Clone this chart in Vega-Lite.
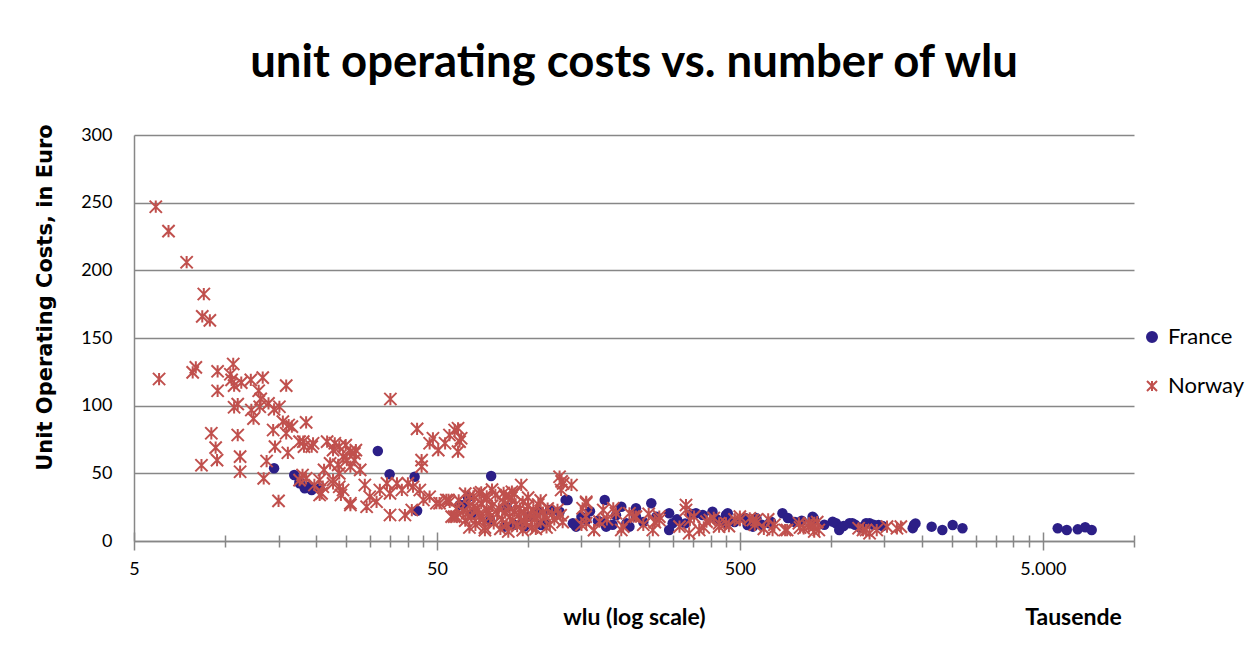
{
  "$schema": "https://vega.github.io/schema/vega-lite/v6.json",
  "width": 1000,
  "height": 406,
  "autosize": {"type": "none"},
  "padding": {"left": 134, "top": 135, "right": 124, "bottom": 113},
  "background": "white",
  "title": {"text": "unit operating costs vs. number of wlu", "font": "Lato", "fontSize": 45.5, "fontWeight": "bold", "color": "black", "anchor": "middle", "offset": 37},
  "config": {"view": {"stroke": null}, "font": "Lato"},
  "data": {"values": [
    {"country":"France","wlu":14.5,"cost":53.7},{"country":"France","wlu":16.9,"cost":48.8},{"country":"France","wlu":17.6,"cost":43.8},{"country":"France","wlu":18.8,"cost":40.1},{"country":"France","wlu":19.3,"cost":37.7},{"country":"France","wlu":20.5,"cost":38.9},{"country":"France","wlu":17.6,"cost":42.6},{"country":"France","wlu":18.3,"cost":39},{"country":"France","wlu":31.9,"cost":66.5},{"country":"France","wlu":34.9,"cost":49.3},{"country":"France","wlu":42.2,"cost":47.5},{"country":"France","wlu":43,"cost":22.4},{"country":"France","wlu":63.3,"cost":32.3},{"country":"France","wlu":61.3,"cost":26.6},{"country":"France","wlu":75.5,"cost":48},{"country":"France","wlu":59.4,"cost":26.6},{"country":"France","wlu":97,"cost":10.6},{"country":"France","wlu":113,"cost":13.1},{"country":"France","wlu":118,"cost":22.9},{"country":"France","wlu":133,"cost":30.3},{"country":"France","wlu":144,"cost":10.6},{"country":"France","wlu":127,"cost":21.6},{"country":"France","wlu":96,"cost":13.1},{"country":"France","wlu":110.5,"cost":11.8},{"country":"France","wlu":83.6,"cost":10.6},{"country":"France","wlu":135,"cost":30.3},{"country":"France","wlu":179,"cost":30.3},{"country":"France","wlu":203,"cost":25.3},{"country":"France","wlu":140.5,"cost":13.1},{"country":"France","wlu":155.5,"cost":15.5},{"country":"France","wlu":181,"cost":10.6},{"country":"France","wlu":211,"cost":13.1},{"country":"France","wlu":227,"cost":18},{"country":"France","wlu":227,"cost":24.2},{"country":"France","wlu":255,"cost":27.9},{"country":"France","wlu":292,"cost":20.5},{"country":"France","wlu":358,"cost":20.5},{"country":"France","wlu":406,"cost":21.6},{"country":"France","wlu":450,"cost":19.2},{"country":"France","wlu":179,"cost":13.1},{"country":"France","wlu":216,"cost":10.6},{"country":"France","wlu":456,"cost":20.5},{"country":"France","wlu":691,"cost":20.5},{"country":"France","wlu":633,"cost":14.3},{"country":"France","wlu":869,"cost":15.5},{"country":"France","wlu":530,"cost":11.8},{"country":"France","wlu":292,"cost":8.1},{"country":"France","wlu":300,"cost":13.1},{"country":"France","wlu":377,"cost":19.2},{"country":"France","wlu":567,"cost":16.8},{"country":"France","wlu":877,"cost":16.8},{"country":"France","wlu":1038,"cost":13.1},{"country":"France","wlu":1176,"cost":13.1},{"country":"France","wlu":1340,"cost":13.1},{"country":"France","wlu":626,"cost":13.1},{"country":"France","wlu":450,"cost":13.1},{"country":"France","wlu":552,"cost":10.6},{"country":"France","wlu":1064,"cost":8.1},{"country":"France","wlu":869,"cost":18},{"country":"France","wlu":1012,"cost":14.3},{"country":"France","wlu":1150,"cost":13.1},{"country":"France","wlu":1305,"cost":13.1},{"country":"France","wlu":1435,"cost":11.8},{"country":"France","wlu":1879,"cost":11.8},{"country":"France","wlu":2148,"cost":10.6},{"country":"France","wlu":2330,"cost":8.1},{"country":"France","wlu":2520,"cost":11.8},{"country":"France","wlu":2715,"cost":9.4},{"country":"France","wlu":5600,"cost":9.4},{"country":"France","wlu":6000,"cost":8.1},{"country":"France","wlu":6520,"cost":8.6},{"country":"France","wlu":6900,"cost":10.1},{"country":"France","wlu":7250,"cost":8.1},{"country":"France","wlu":65,"cost":20},{"country":"France","wlu":75,"cost":15},{"country":"France","wlu":85,"cost":25},{"country":"France","wlu":90,"cost":12},{"country":"France","wlu":100,"cost":18},{"country":"France","wlu":108,"cost":22},{"country":"France","wlu":1860,"cost":9.5},{"country":"France","wlu":1900,"cost":13},{"country":"France","wlu":720,"cost":17},{"country":"France","wlu":760,"cost":14},{"country":"France","wlu":800,"cost":15},{"country":"France","wlu":950,"cost":12},{"country":"France","wlu":1100,"cost":11},{"country":"France","wlu":1200,"cost":12},{"country":"France","wlu":1380,"cost":12},{"country":"France","wlu":1480,"cost":11},{"country":"France","wlu":1250,"cost":10},{"country":"France","wlu":240,"cost":14},{"country":"France","wlu":265,"cost":18},{"country":"France","wlu":310,"cost":16},{"country":"France","wlu":330,"cost":13},{"country":"France","wlu":345,"cost":20},{"country":"France","wlu":420,"cost":16},{"country":"France","wlu":480,"cost":14},{"country":"France","wlu":520,"cost":17},{"country":"France","wlu":590,"cost":12},{"country":"France","wlu":150,"cost":18},{"country":"France","wlu":160,"cost":22},{"country":"France","wlu":170,"cost":15},{"country":"France","wlu":190,"cost":12},{"country":"France","wlu":195,"cost":19},
    {"country":"Norway","wlu":5.9,"cost":247},{"country":"Norway","wlu":6.5,"cost":229},{"country":"Norway","wlu":7.46,"cost":206},{"country":"Norway","wlu":8.5,"cost":182.5},{"country":"Norway","wlu":8.4,"cost":166},{"country":"Norway","wlu":8.9,"cost":163},{"country":"Norway","wlu":6.05,"cost":119.7},{"country":"Norway","wlu":7.81,"cost":124.6},{"country":"Norway","wlu":8.0,"cost":128.3},{"country":"Norway","wlu":9.44,"cost":125.4},{"country":"Norway","wlu":10.63,"cost":130.8},{"country":"Norway","wlu":10.5,"cost":119},{"country":"Norway","wlu":10.7,"cost":114.8},{"country":"Norway","wlu":10.4,"cost":123.2},{"country":"Norway","wlu":9.44,"cost":111},{"country":"Norway","wlu":11.3,"cost":117},{"country":"Norway","wlu":12.15,"cost":119},{"country":"Norway","wlu":13.3,"cost":120.7},{"country":"Norway","wlu":15.9,"cost":114.8},{"country":"Norway","wlu":12.9,"cost":111},{"country":"Norway","wlu":13.1,"cost":105},{"country":"Norway","wlu":10.7,"cost":98.8},{"country":"Norway","wlu":11.0,"cost":101.2},{"country":"Norway","wlu":12.2,"cost":96.8},{"country":"Norway","wlu":12.4,"cost":90.4},{"country":"Norway","wlu":13.0,"cost":99.2},{"country":"Norway","wlu":13.9,"cost":101.7},{"country":"Norway","wlu":14.5,"cost":97.3},{"country":"Norway","wlu":15.1,"cost":99.2},{"country":"Norway","wlu":15.5,"cost":88.2},{"country":"Norway","wlu":16.2,"cost":85.7},{"country":"Norway","wlu":16.6,"cost":84.5},{"country":"Norway","wlu":15.9,"cost":79.6},{"country":"Norway","wlu":14.4,"cost":82},{"country":"Norway","wlu":18.5,"cost":87.6},{"country":"Norway","wlu":9.0,"cost":79.6},{"country":"Norway","wlu":9.3,"cost":69},{"country":"Norway","wlu":9.4,"cost":59.8},{"country":"Norway","wlu":11.0,"cost":78.3},{"country":"Norway","wlu":8.35,"cost":56},{"country":"Norway","wlu":11.2,"cost":62.3},{"country":"Norway","wlu":11.2,"cost":51.2},{"country":"Norway","wlu":14.6,"cost":69.7},{"country":"Norway","wlu":13.7,"cost":59.1},{"country":"Norway","wlu":16.1,"cost":65.2},{"country":"Norway","wlu":13.4,"cost":46.3},{"country":"Norway","wlu":15.0,"cost":29.6},{"country":"Norway","wlu":17.6,"cost":73.4},{"country":"Norway","wlu":18.2,"cost":69.7},{"country":"Norway","wlu":19.3,"cost":69.7},{"country":"Norway","wlu":17.6,"cost":45},{"country":"Norway","wlu":18.0,"cost":48.8},{"country":"Norway","wlu":20.5,"cost":34},{"country":"Norway","wlu":21.0,"cost":40.1},
    {"country":"Norway","wlu":35.1,"cost":104.9},{"country":"Norway","wlu":43,"cost":82.8},{"country":"Norway","wlu":47.3,"cost":72.2},{"country":"Norway","wlu":48.5,"cost":75.9},{"country":"Norway","wlu":50.5,"cost":67.2},{"country":"Norway","wlu":53.2,"cost":72.2},{"country":"Norway","wlu":55.0,"cost":78.3},{"country":"Norway","wlu":57.2,"cost":82},{"country":"Norway","wlu":58.7,"cost":83.3},{"country":"Norway","wlu":59.4,"cost":73.4},{"country":"Norway","wlu":58.7,"cost":66},{"country":"Norway","wlu":60.1,"cost":75.9},{"country":"Norway","wlu":44.5,"cost":59.8},{"country":"Norway","wlu":44.5,"cost":54.9},
    {"country":"Norway","wlu":23.0,"cost":72.2},{"country":"Norway","wlu":25,"cost":70.9},{"country":"Norway","wlu":25.9,"cost":66},{"country":"Norway","wlu":27.0,"cost":67.2},{"country":"Norway","wlu":26.7,"cost":59.8},{"country":"Norway","wlu":24.5,"cost":62.3},{"country":"Norway","wlu":23.6,"cost":56.2},{"country":"Norway","wlu":25.9,"cost":54.9},{"country":"Norway","wlu":27.9,"cost":52.5},{"country":"Norway","wlu":22.7,"cost":45.1},{"country":"Norway","wlu":23.8,"cost":40.1},{"country":"Norway","wlu":24.1,"cost":34},{"country":"Norway","wlu":25.9,"cost":26.6},
    {"country":"Norway","wlu":28.9,"cost":41.4},{"country":"Norway","wlu":30.0,"cost":32.7},{"country":"Norway","wlu":29.3,"cost":25.3},{"country":"Norway","wlu":31.6,"cost":29},{"country":"Norway","wlu":32.4,"cost":37.7},{"country":"Norway","wlu":34.2,"cost":42.6},{"country":"Norway","wlu":35.0,"cost":35.2},{"country":"Norway","wlu":36.9,"cost":42.6},{"country":"Norway","wlu":38.3,"cost":37.7},{"country":"Norway","wlu":40.1,"cost":42.6},{"country":"Norway","wlu":41.7,"cost":40.1},{"country":"Norway","wlu":43.9,"cost":37.7},{"country":"Norway","wlu":45.1,"cost":30.3},{"country":"Norway","wlu":47.3,"cost":32.7},{"country":"Norway","wlu":49.8,"cost":27.9},{"country":"Norway","wlu":54.6,"cost":30.3},{"country":"Norway","wlu":35.0,"cost":19.2},{"country":"Norway","wlu":39.2,"cost":19.2},{"country":"Norway","wlu":41.3,"cost":22.9},{"country":"Norway","wlu":55.9,"cost":18},
    {"country":"Norway","wlu":18.1,"cost":73.4},{"country":"Norway","wlu":19.5,"cost":72.2},{"country":"Norway","wlu":21.7,"cost":73.4},{"country":"Norway","wlu":22.7,"cost":67.2},{"country":"Norway","wlu":23.8,"cost":69.7},{"country":"Norway","wlu":26.7,"cost":64.8},{"country":"Norway","wlu":25.2,"cost":59.8},{"country":"Norway","wlu":22.2,"cost":57.4},{"country":"Norway","wlu":21.2,"cost":52.5},{"country":"Norway","wlu":23.8,"cost":50},{"country":"Norway","wlu":20.5,"cost":45.1},{"country":"Norway","wlu":22.7,"cost":42.6},{"country":"Norway","wlu":24.5,"cost":37.7},{"country":"Norway","wlu":25.9,"cost":27.9},{"country":"Norway","wlu":20.8,"cost":35.2},{"country":"Norway","wlu":18.5,"cost":46.3},{"country":"Norway","wlu":19.7,"cost":41.4},
    {"country":"Norway","wlu":51,"cost":27.9},{"country":"Norway","wlu":55.1,"cost":29},{"country":"Norway","wlu":58,"cost":18},{"country":"Norway","wlu":63,"cost":20.5},{"country":"Norway","wlu":66,"cost":25.3},{"country":"Norway","wlu":69,"cost":18},{"country":"Norway","wlu":73,"cost":22.9},{"country":"Norway","wlu":53.7,"cost":30.3},{"country":"Norway","wlu":64,"cost":33},{"country":"Norway","wlu":69,"cost":35},{"country":"Norway","wlu":73,"cost":33},{"country":"Norway","wlu":83,"cost":35.5},
    {"country":"Norway","wlu":94.9,"cost":41.4},{"country":"Norway","wlu":88.4,"cost":36.4},{"country":"Norway","wlu":127,"cost":47.5},{"country":"Norway","wlu":129,"cost":44},{"country":"Norway","wlu":130.5,"cost":42.6},{"country":"Norway","wlu":139,"cost":41.4},{"country":"Norway","wlu":128.5,"cost":37.7},{"country":"Norway","wlu":155.5,"cost":29},{"country":"Norway","wlu":151.3,"cost":24.2},{"country":"Norway","wlu":155.5,"cost":13.1},{"country":"Norway","wlu":177,"cost":22.9},{"country":"Norway","wlu":191,"cost":24.2},{"country":"Norway","wlu":206,"cost":10.6},{"country":"Norway","wlu":223,"cost":18},
    {"country":"Norway","wlu":59,"cost":30},{"country":"Norway","wlu":61,"cost":22},{"country":"Norway","wlu":62,"cost":15},{"country":"Norway","wlu":64,"cost":26},{"country":"Norway","wlu":65,"cost":18},{"country":"Norway","wlu":66,"cost":33},{"country":"Norway","wlu":67,"cost":12},{"country":"Norway","wlu":68,"cost":24},{"country":"Norway","wlu":69,"cost":20},{"country":"Norway","wlu":70,"cost":28},{"country":"Norway","wlu":71,"cost":16},{"country":"Norway","wlu":72,"cost":10},{"country":"Norway","wlu":73,"cost":31},{"country":"Norway","wlu":74,"cost":22},{"country":"Norway","wlu":75,"cost":18},{"country":"Norway","wlu":76,"cost":26},{"country":"Norway","wlu":77,"cost":13},{"country":"Norway","wlu":78,"cost":34},{"country":"Norway","wlu":79,"cost":20},{"country":"Norway","wlu":80,"cost":24},{"country":"Norway","wlu":81,"cost":9},{"country":"Norway","wlu":82,"cost":16},{"country":"Norway","wlu":83,"cost":29},{"country":"Norway","wlu":84,"cost":21},{"country":"Norway","wlu":85,"cost":12},{"country":"Norway","wlu":86,"cost":25},{"country":"Norway","wlu":87,"cost":18},{"country":"Norway","wlu":88,"cost":32},{"country":"Norway","wlu":89,"cost":15},{"country":"Norway","wlu":90,"cost":22},{"country":"Norway","wlu":91,"cost":27},{"country":"Norway","wlu":92,"cost":11},{"country":"Norway","wlu":93,"cost":19},{"country":"Norway","wlu":94,"cost":24},{"country":"Norway","wlu":95,"cost":15},{"country":"Norway","wlu":96,"cost":29},{"country":"Norway","wlu":97,"cost":21},{"country":"Norway","wlu":98,"cost":13},{"country":"Norway","wlu":99,"cost":17},{"country":"Norway","wlu":100,"cost":26},{"country":"Norway","wlu":102,"cost":20},{"country":"Norway","wlu":103,"cost":10},{"country":"Norway","wlu":104,"cost":23},{"country":"Norway","wlu":105,"cost":16},{"country":"Norway","wlu":107,"cost":19},{"country":"Norway","wlu":108,"cost":27},{"country":"Norway","wlu":110,"cost":14},{"country":"Norway","wlu":112,"cost":21},{"country":"Norway","wlu":114,"cost":18},{"country":"Norway","wlu":116,"cost":24},{"country":"Norway","wlu":118,"cost":12},{"country":"Norway","wlu":120,"cost":20},{"country":"Norway","wlu":122,"cost":16},{"country":"Norway","wlu":125,"cost":23},{"country":"Norway","wlu":128,"cost":19},{"country":"Norway","wlu":130,"cost":14},{"country":"Norway","wlu":62,"cost":35},{"country":"Norway","wlu":70,"cost":36},{"country":"Norway","wlu":76,"cost":38},{"country":"Norway","wlu":84,"cost":33},{"country":"Norway","wlu":90,"cost":35},{"country":"Norway","wlu":72,"cost":8},{"country":"Norway","wlu":86,"cost":7},{"country":"Norway","wlu":96,"cost":8},{"country":"Norway","wlu":106,"cost":9},{"country":"Norway","wlu":115,"cost":10},{"country":"Norway","wlu":64,"cost":10},{"country":"Norway","wlu":58,"cost":24},{"country":"Norway","wlu":57,"cost":18},{"country":"Norway","wlu":100,"cost":32},{"country":"Norway","wlu":110,"cost":30},
    {"country":"Norway","wlu":155.5,"cost":27.9},{"country":"Norway","wlu":332,"cost":26.6},{"country":"Norway","wlu":203,"cost":8.1},{"country":"Norway","wlu":258,"cost":8.1},{"country":"Norway","wlu":316,"cost":10.6},{"country":"Norway","wlu":353,"cost":18},{"country":"Norway","wlu":388,"cost":14.3},{"country":"Norway","wlu":427,"cost":13.1},{"country":"Norway","wlu":367,"cost":8.1},{"country":"Norway","wlu":271,"cost":18},{"country":"Norway","wlu":227,"cost":18},{"country":"Norway","wlu":195,"cost":20.5},{"country":"Norway","wlu":172,"cost":14.3},{"country":"Norway","wlu":155,"cost":18},{"country":"Norway","wlu":332,"cost":22.9},{"country":"Norway","wlu":342,"cost":15.5},{"country":"Norway","wlu":271,"cost":15.5},{"country":"Norway","wlu":216,"cost":20.5},{"country":"Norway","wlu":398,"cost":15.5},{"country":"Norway","wlu":450,"cost":13.1},{"country":"Norway","wlu":500,"cost":15.5},{"country":"Norway","wlu":552,"cost":15.5},{"country":"Norway","wlu":641,"cost":8.1},{"country":"Norway","wlu":716,"cost":8.1},{"country":"Norway","wlu":812,"cost":9.4},{"country":"Norway","wlu":877,"cost":10.6},{"country":"Norway","wlu":340,"cost":5.7},{"country":"Norway","wlu":500,"cost":18},{"country":"Norway","wlu":539,"cost":16.8},{"country":"Norway","wlu":567,"cost":15.5},{"country":"Norway","wlu":705,"cost":8.1},{"country":"Norway","wlu":783,"cost":13.1},{"country":"Norway","wlu":843,"cost":10.6},{"country":"Norway","wlu":911,"cost":8.1},{"country":"Norway","wlu":1275,"cost":8.1},{"country":"Norway","wlu":1340,"cost":5.7},{"country":"Norway","wlu":1415,"cost":8.1},{"country":"Norway","wlu":427,"cost":10.6},{"country":"Norway","wlu":1305,"cost":8.1},{"country":"Norway","wlu":1530,"cost":10.6},{"country":"Norway","wlu":1650,"cost":9.4},{"country":"Norway","wlu":1233,"cost":9.4},{"country":"Norway","wlu":1700,"cost":10.6},{"country":"Norway","wlu":846,"cost":13},{"country":"Norway","wlu":880,"cost":7},{"country":"Norway","wlu":150,"cost":12},{"country":"Norway","wlu":165,"cost":8},{"country":"Norway","wlu":182,"cost":16},{"country":"Norway","wlu":240,"cost":12},{"country":"Norway","wlu":250,"cost":20},{"country":"Norway","wlu":262,"cost":14},{"country":"Norway","wlu":380,"cost":10},{"country":"Norway","wlu":410,"cost":17},{"country":"Norway","wlu":460,"cost":11},{"country":"Norway","wlu":480,"cost":16},{"country":"Norway","wlu":560,"cost":12},{"country":"Norway","wlu":600,"cost":9},{"country":"Norway","wlu":650,"cost":12},{"country":"Norway","wlu":620,"cost":16},{"country":"Norway","wlu":790,"cost":10},{"country":"Norway","wlu":860,"cost":12},{"country":"Norway","wlu":900,"cost":14}
  ]},
  "encoding": {
    "y": {
      "field": "cost", "type": "quantitative",
      "scale": {"domain": [0, 300], "nice": false, "zero": true},
      "axis": {
        "title": "Unit Operating Costs, in Euro", "titleFont": "DejaVu Sans", "titleFontSize": 21, "titleFontWeight": "bold", "titleColor": "black",
        "titleAngle": 270, "titleX": -89, "titleY": 162, "titleAlign": "center", "titleBaseline": "middle",
        "values": [0, 50, 100, 150, 200, 250, 300],
        "labelFont": "Lato", "labelFontSize": 18, "labelColor": "black", "labelPadding": 22,
        "ticks": false, "tickSize": 0,
        "domainColor": "#878787", "domainWidth": 1.5,
        "grid": true, "gridColor": "#878787", "gridWidth": 1.5
      }
    },
    "color": {
      "field": "country", "type": "nominal",
      "scale": {"domain": ["France", "Norway"], "range": ["#2c1f87", "#c0504d"]},
      "legend": {
        "title": null, "orient": "none", "legendX": 1007, "legendY": 191, "padding": 0,
        "labelFont": "Lato", "labelFontSize": 22, "labelColor": "black", "labelOffset": 5,
        "symbolSize": 100, "rowPadding": 27, "symbolStrokeWidth": 2,
        "encode": {"symbols": {"update": {
          "fill": {"signal": "datum.value == 'France' ? '#2c1f87' : 'transparent'"},
          "stroke": {"signal": "datum.value == 'France' ? 'transparent' : '#c0504d'"},
          "strokeWidth": {"value": 2}
        }}}
      }
    },
    "shape": {
      "field": "country", "type": "nominal",
      "scale": {"domain": ["France", "Norway"], "range": ["circle", "M-1,-1L1,1M-1,1L1,-1M0,-1L0,1"]}
    }
  },
  "layer": [
    {
      "transform": [{"filter": "datum.country == 'France'"}],
      "mark": {"type": "point", "filled": true, "size": 110, "opacity": 1},
      "encoding": {
        "x": {
          "field": "wlu", "type": "quantitative",
          "scale": {"type": "log", "domain": [5, 10000], "nice": false},
          "axis": {
            "orient": "bottom",
            "title": "wlu (log scale)", "titleFont": "Lato", "titleFontSize": 23, "titleFontWeight": "bold", "titleColor": "black",
            "titleBaseline": "middle", "titleX": 500, "titleY": 76,
            "values": [5,10,15,20,25,30,35,40,45,50,100,150,200,250,300,350,400,450,500,1000,1500,2000,2500,3000,3500,4000,4500,5000,10000],
            "labelExpr": "datum.value == 5 ? '5' : datum.value == 50 ? '50' : datum.value == 500 ? '500' : datum.value == 5000 ? '5.000' : ''",
            "labelFont": "Lato", "labelFontSize": 18, "labelColor": "black", "labelPadding": 10,
            "labelOverlap": false, "labelFlush": false, "labelBound": false,
            "tickSize": {"condition": {"test": "datum.value == 5 || datum.value == 50 || datum.value == 500 || datum.value == 5000", "value": 9}, "value": 6},
            "tickColor": "#878787", "tickWidth": 1.5,
            "domainColor": "#878787", "domainWidth": 1.5,
            "grid": false
          }
        }
      }
    },
    {
      "transform": [{"filter": "datum.country == 'Norway'"}],
      "mark": {"type": "point", "filled": false, "size": 150, "strokeWidth": 2, "opacity": 1},
      "encoding": {
        "x": {
          "field": "wlu", "type": "quantitative",
          "scale": {"type": "log", "domain": [5, 10000], "nice": false},
          "axis": {
            "orient": "bottom",
            "title": "Tausende", "titleFont": "Lato", "titleFontSize": 23, "titleFontWeight": "bold", "titleColor": "black",
            "titleBaseline": "middle", "titleX": 939, "titleY": 76,
            "values": [5,10,15,20,25,30,35,40,45,50,100,150,200,250,300,350,400,450,500,1000,1500,2000,2500,3000,3500,4000,4500,5000,10000],
            "labels": false, "domain": false, "grid": false,
            "tickSize": {"condition": {"test": "datum.value == 5 || datum.value == 50 || datum.value == 500 || datum.value == 5000", "value": -9}, "value": -6},
            "tickColor": "#878787", "tickWidth": 1.5
          }
        }
      }
    }
  ],
  "resolve": {"axis": {"x": "independent"}}
}
